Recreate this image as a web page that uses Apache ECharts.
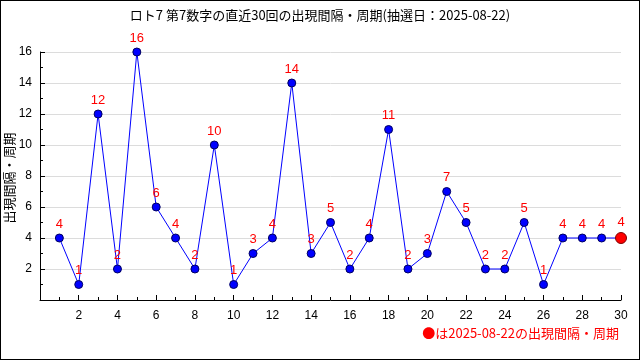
<!DOCTYPE html>
<html><head><meta charset="utf-8">
<script src="https://cdn.jsdelivr.net/npm/echarts@6/dist/echarts.min.js"></script>
<style>html,body{margin:0;padding:0;background:#fff}#c{width:640px;height:360px;box-sizing:border-box;border:1px solid #000}</style>
</head><body><div id="c"></div>
<script>
const draws = [1,2,3,4,5,6,7,8,9,10,11,12,13,14,15,16,17,18,19,20,21,22,23,24,25,26,27,28,29,30];
const intervals = [4,1,12,2,16,6,4,2,10,1,3,4,14,3,5,2,4,11,2,3,7,5,2,2,5,1,4,4,4,4];
const titleText = 'ロト7 第7数字の直近30回の出現間隔・周期(抽選日：2025-08-22)';
const yName = '出現間隔・周期';
const noteText = '●は2025-08-22の出現間隔・周期';
const FONT = '"Noto Sans CJK JP", "DejaVu Sans", sans-serif';
const NUMFONT = '"Liberation Sans", "DejaVu Sans", sans-serif';

const data = draws.map((d,i)=>{
  const last = i === draws.length-1;
  return {value:[d, intervals[i]],
    symbolSize: last ? 11 : 8,
    itemStyle: last ? {color:'#ff0000', borderColor:'#800000', borderWidth:1} : {color:'#0000ff', borderColor:'#000060', borderWidth:1}};
});
const chart = echarts.init(document.getElementById('c'), null, {renderer:'canvas'});
chart.setOption({
  animation:false,
  backgroundColor:'#fff',
  title:{text:titleText, left:'center', top:3, textStyle:{fontFamily:FONT, fontSize:13, fontWeight:'normal', color:'#000'}},
  grid:{left:39, right:18, top:51, bottom:59, containLabel:false, outerBoundsMode:'none'},
  xAxis:{type:'value', min:0, max:30, interval:2,
    axisLine:{lineStyle:{color:'#000'}},
    axisTick:{inside:true, length:5, lineStyle:{color:'#000'}},
    minorTick:{show:true, splitNumber:2, length:3, lineStyle:{color:'#000'}},
    axisLabel:{fontFamily:NUMFONT, fontSize:12, color:'#000', margin:10,
      formatter:v=> v>0 ? String(v) : ''},
    splitLine:{show:false}},
  yAxis:{type:'value', min:0, max:16, interval:2,
    axisLine:{show:true, lineStyle:{color:'#000'}},
    axisTick:{inside:true, length:5, lineStyle:{color:'#000'}},
    minorTick:{show:true, splitNumber:2, length:3, lineStyle:{color:'#000'}},
    axisLabel:{fontFamily:NUMFONT, fontSize:12, color:'#000', margin:8,
      formatter:v=> v>0 ? String(v) : ''},
    splitLine:{show:true, lineStyle:{color:'#dcdcdc'}}},
  series:[{type:'line', data:data, symbol:'circle',
    lineStyle:{color:'#0000ff', width:1},
    label:{show:true, position:'top', distance:3, color:'#ff0000', fontFamily:NUMFONT, fontSize:13,
      formatter:p=>String(p.value[1])}}],
  graphic:[
    {type:'text', x:8, y:177, rotation:Math.PI/2, style:{text:yName, fill:'#000', font:'13px '+FONT, align:'center', verticalAlign:'middle'}},
    {type:'text', right:20, top:326, style:{text:noteText, fill:'#ff0000', font:'13px '+FONT}}
  ]
});
</script></body></html>
